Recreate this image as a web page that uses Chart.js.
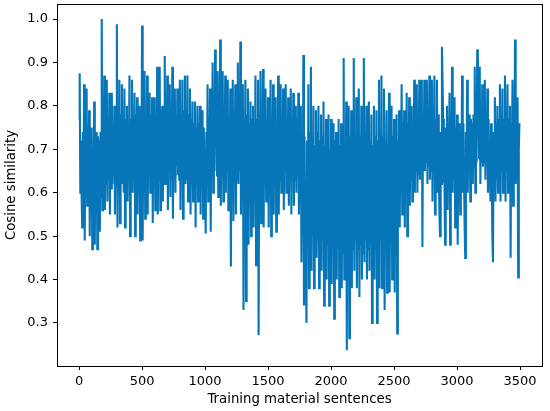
<!DOCTYPE html>
<html>
<head>
<meta charset="utf-8">
<script src="https://cdn.jsdelivr.net/npm/chart.js@4/dist/chart.umd.min.js"></script>
<style>
html,body{margin:0;padding:0;background:#fff;}
#c{display:block;}
</style>
</head>
<body>
<canvas id="c" width="550" height="411"></canvas>
<script>
// Sentence index step between plotted samples
const sentenceStep = 5;
// Cosine similarity values (one per 5 sentences)
const similarity = [
  0.77,0.875,0.60,0.72, 0.60,0.52,0.74,0.58, 0.85,0.49,0.70,0.62, 0.84,0.57,0.75,0.60, 0.79,0.50,0.72,0.58,
  0.75,0.47,0.70,0.58, 0.81,0.48,0.72,0.57, 0.74,0.47,0.73,0.60, 0.72,0.51,0.74,0.59, 1.0,0.56,0.76,0.62,
  0.87,0.56,0.77,0.62, 0.86,0.58,0.76,0.63, 0.83,0.55,0.78,0.61, 0.83,0.62,0.75,0.64, 0.80,0.55,0.77,0.62,
  0.988,0.52,0.76,0.61, 0.86,0.53,0.78,0.63, 0.85,0.62,0.74,0.60, 0.84,0.52,0.77,0.62, 0.80,0.58,0.76,0.63,
  0.87,0.50,0.77,0.62, 0.86,0.60,0.75,0.63, 0.83,0.50,0.78,0.61, 0.82,0.55,0.76,0.62, 0.80,0.49,0.74,0.61,
  0.985,0.49,0.77,0.63, 0.88,0.54,0.78,0.62, 0.87,0.55,0.76,0.64, 0.83,0.60,0.78,0.63, 0.82,0.53,0.77,0.62,
  0.82,0.56,0.78,0.64, 0.89,0.55,0.77,0.63, 0.89,0.56,0.79,0.65, 0.80,0.58,0.76,0.62, 0.915,0.62,0.78,0.64,
  0.87,0.56,0.78,0.65, 0.85,0.59,0.77,0.63, 0.89,0.54,0.79,0.64, 0.84,0.60,0.78,0.66, 0.84,0.64,0.77,0.63,
  0.86,0.56,0.78,0.64, 0.86,0.54,0.79,0.65, 0.87,0.62,0.77,0.63, 0.87,0.58,0.78,0.64, 0.84,0.55,0.77,0.62,
  0.81,0.58,0.76,0.63, 0.81,0.52,0.75,0.62, 0.80,0.58,0.76,0.64, 0.80,0.55,0.74,0.62, 0.79,0.54,0.75,0.63,
  0.60,0.506,0.74,0.62, 0.85,0.58,0.77,0.63, 0.84,0.51,0.78,0.64, 0.90,0.60,0.79,0.65, 0.93,0.86,0.78,0.64,
  0.88,0.59,0.79,0.65, 0.953,0.57,0.78,0.64, 0.88,0.58,0.80,0.66, 0.87,0.60,0.78,0.65, 0.86,0.56,0.77,0.63,
  0.84,0.43,0.76,0.62, 0.86,0.535,0.78,0.64, 0.85,0.55,0.77,0.63, 0.90,0.62,0.79,0.65, 0.948,0.55,0.78,0.64,
  0.85,0.33,0.77,0.62, 0.86,0.35,0.78,0.63, 0.84,0.48,0.76,0.62, 0.81,0.50,0.77,0.63, 0.80,0.52,0.76,0.62,
  0.87,0.433,0.77,0.62, 0.86,0.272,0.78,0.63, 0.88,0.53,0.77,0.64, 0.885,0.52,0.78,0.62, 0.84,0.58,0.76,0.63,
  0.82,0.52,0.76,0.62, 0.86,0.50,0.77,0.63, 0.85,0.55,0.78,0.64, 0.82,0.51,0.76,0.62, 0.87,0.55,0.77,0.63,
  0.85,0.60,0.77,0.64, 0.84,0.56,0.78,0.65, 0.85,0.60,0.77,0.63, 0.82,0.57,0.76,0.64, 0.84,0.55,0.77,0.63,
  0.83,0.57,0.76,0.63, 0.80,0.60,0.77,0.64, 0.83,0.55,0.74,0.58, 0.80,0.44,0.72,0.50, 0.917,0.34,0.73,0.48,
  0.40,0.30,0.72,0.48, 0.85,0.38,0.74,0.46, 0.89,0.42,0.73,0.50, 0.80,0.38,0.71,0.47, 0.79,0.45,0.74,0.49,
  0.80,0.38,0.72,0.47, 0.78,0.42,0.73,0.49, 0.81,0.34,0.71,0.46, 0.77,0.40,0.72,0.48, 0.78,0.34,0.70,0.47,
  0.77,0.39,0.71,0.48, 0.76,0.31,0.72,0.46, 0.74,0.40,0.70,0.47, 0.77,0.36,0.71,0.49, 0.76,0.38,0.72,0.46,
  0.91,0.40,0.72,0.47, 0.81,0.237,0.71,0.46, 0.80,0.265,0.73,0.48, 0.79,0.38,0.72,0.47, 0.91,0.42,0.73,0.49,
  0.82,0.38,0.72,0.47, 0.84,0.36,0.73,0.48, 0.80,0.40,0.71,0.46, 0.91,0.44,0.73,0.49, 0.80,0.40,0.72,0.47,
  0.81,0.42,0.72,0.48, 0.78,0.30,0.71,0.46, 0.80,0.40,0.73,0.47, 0.79,0.30,0.72,0.48, 0.86,0.38,0.73,0.49,
  0.87,0.38,0.73,0.48, 0.84,0.33,0.72,0.47, 0.79,0.37,0.71,0.49, 0.83,0.37,0.72,0.48, 0.80,0.40,0.73,0.50,
  0.77,0.37,0.72,0.48, 0.78,0.276,0.72,0.52, 0.79,0.52,0.74,0.60, 0.85,0.55,0.76,0.62, 0.79,0.52,0.75,0.61,
  0.83,0.50,0.76,0.62, 0.82,0.57,0.77,0.63, 0.80,0.58,0.76,0.64, 0.86,0.60,0.78,0.65, 0.85,0.60,0.77,0.64,
  0.86,0.63,0.77,0.66, 0.86,0.475,0.78,0.65, 0.86,0.65,0.78,0.67, 0.86,0.62,0.79,0.66, 0.87,0.63,0.78,0.65,
  0.86,0.58,0.78,0.65, 0.87,0.55,0.77,0.64, 0.86,0.60,0.78,0.65, 0.55,0.50,0.74,0.62, 0.936,0.85,0.77,0.63,
  0.62,0.48,0.75,0.62, 0.80,0.56,0.76,0.63, 0.83,0.48,0.77,0.64, 0.89,0.60,0.76,0.63, 0.82,0.52,0.75,0.62,
  0.78,0.48,0.74,0.62, 0.76,0.55,0.73,0.63, 0.87,0.60,0.76,0.64, 0.52,0.45,0.74,0.62, 0.86,0.60,0.77,0.65,
  0.78,0.58,0.77,0.65, 0.76,0.62,0.78,0.66, 0.89,0.60,0.80,0.67, 0.93,0.91,0.81,0.68, 0.89,0.62,0.80,0.67,
  0.85,0.66,0.79,0.67, 0.86,0.63,0.78,0.66, 0.84,0.60,0.77,0.65, 0.64,0.58,0.76,0.64, 0.50,0.44,0.74,0.62,
  0.82,0.58,0.76,0.63, 0.80,0.60,0.77,0.64, 0.85,0.58,0.78,0.65, 0.84,0.60,0.77,0.64, 0.87,0.58,0.78,0.65,
  0.85,0.60,0.77,0.64, 0.80,0.45,0.76,0.63, 0.86,0.57,0.77,0.64, 0.953,0.62,0.78,0.64, 0.82,0.405,0.70,0.76
];
const xTickValues = [0,500,1000,1500,2000,2500,3000,3500];
const yTickValues = [0.3,0.4,0.5,0.6,0.7,0.8,0.9,1.0];

const points = similarity.map((v,i)=>({x:i*sentenceStep, y:v}));

const frame = {
  id:'frame',
  afterDatasetsDraw(chart){
    const a = chart.chartArea, ctx = chart.ctx;
    ctx.save();
    ctx.strokeStyle = '#000';
    ctx.lineWidth = 1;
    ctx.strokeRect(Math.round(a.left)+0.5, Math.round(a.top)+0.5, Math.round(a.right-a.left), Math.round(a.bottom-a.top));
    ctx.restore();
  }
};

const font = {family:'DejaVu Sans', size:13};
new Chart(document.getElementById('c'), {
  type:'line',
  data:{datasets:[{
    data:points,
    borderColor:'#0676b8',
    borderWidth:2.1,
    pointRadius:0,
    tension:0,
    fill:false
  }]},
  options:{
    responsive:false,
    animation:false,
    layout:{padding:{top:4,right:8,left:0,bottom:0}},
    plugins:{legend:{display:false},tooltip:{enabled:false}},
    scales:{
      x:{
        type:'linear', min:-175, max:3674,
        afterBuildTicks(s){ s.ticks = xTickValues.map(v=>({value:v})); },
        afterFit(s){ s.height = 45; s.paddingLeft = 0; s.paddingRight = 0; },
        grid:{drawOnChartArea:false, drawTicks:true, tickLength:4, color:'#000'},
        border:{display:false},
        ticks:{color:'#000', font, padding:4, maxRotation:0, callback:v=>String(v)},
        title:{display:true, text:'Training material sentences', color:'#000', font:{family:'DejaVu Sans', size:13.3}, padding:{top:0,bottom:3}}
      },
      y:{
        type:'linear', min:0.2009, max:1.0346,
        afterBuildTicks(s){ s.ticks = yTickValues.map(v=>({value:v})); },
        afterFit(s){ s.width = 57; s.paddingTop = 0; s.paddingBottom = 0; },
        grid:{drawOnChartArea:false, drawTicks:true, tickLength:4, color:'#000'},
        border:{display:false},
        ticks:{color:'#000', font, padding:5, callback:v=>v.toFixed(1)},
        title:{display:true, text:'Cosine similarity', color:'#000', font:{family:'DejaVu Sans', size:13.3}, padding:{top:4,bottom:0}}
      }
    }
  },
  plugins:[frame]
});
</script>
</body>
</html>
